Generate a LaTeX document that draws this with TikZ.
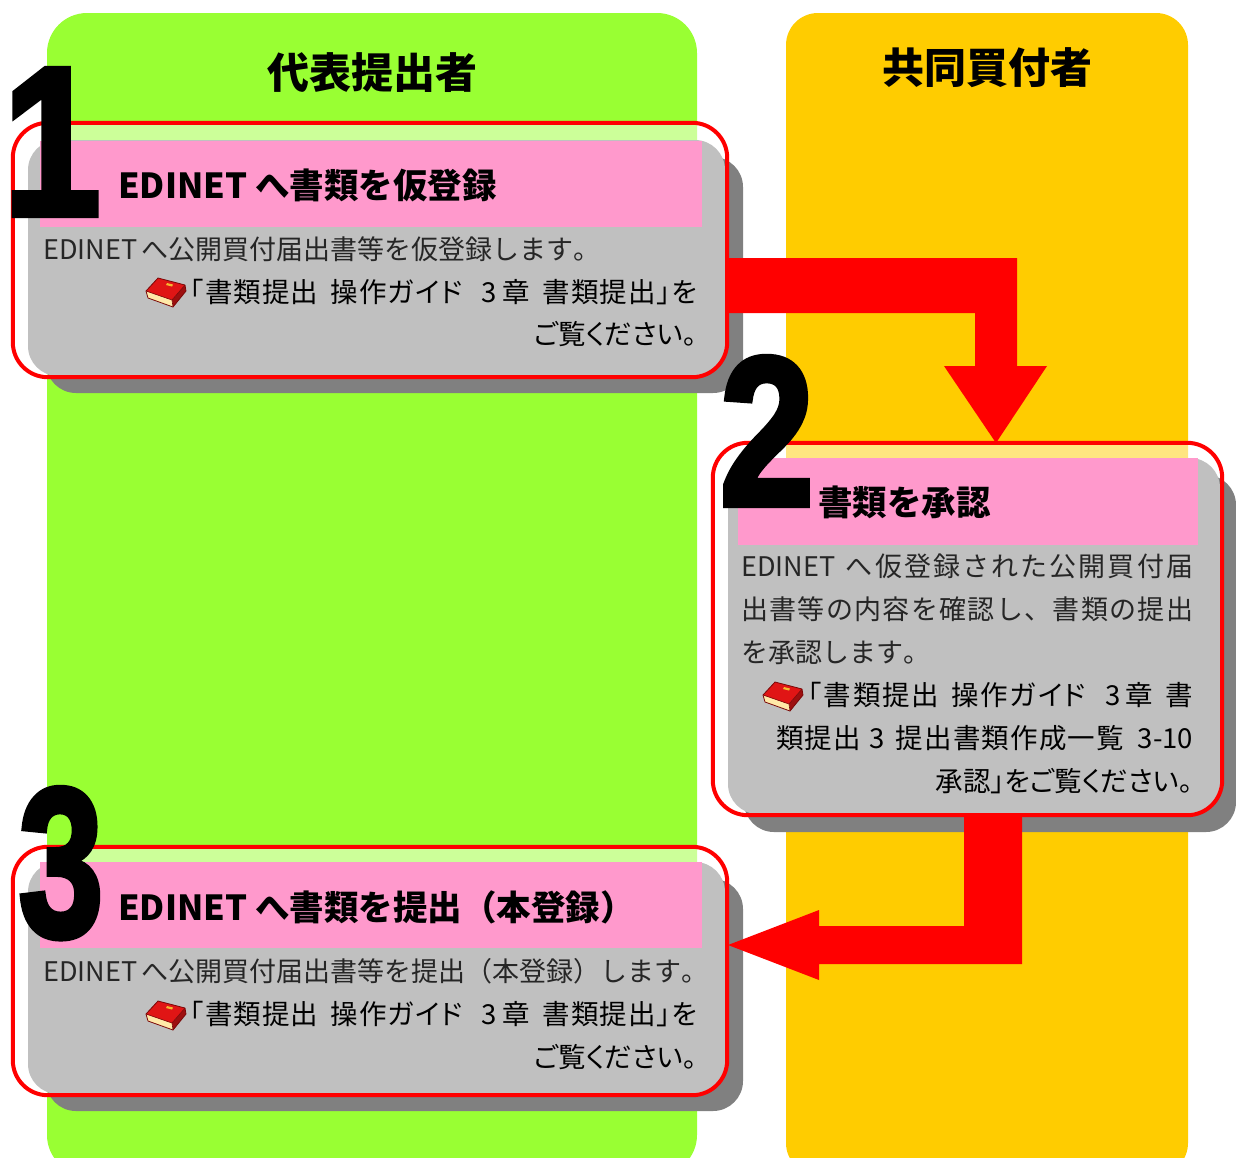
\documentclass[tikz,border=0pt]{standalone}
\usepackage{fontspec}
\usetikzlibrary{calc}
\newfontfamily\jp{Noto Sans CJK JP}
\newfontfamily\jpp[RawFeature=+palt]{Noto Sans CJK JP}
\newfontfamily\numfont[FakeBold=3]{Liberation Sans Bold}
\definecolor{lanegreen}{HTML}{99FF33}
\definecolor{laneyellow}{HTML}{FFCC00}
\definecolor{hpink}{HTML}{FF99CC}
\definecolor{boxgray}{HTML}{C0C0C0}
\definecolor{shadowgray}{HTML}{808080}
\definecolor{arrowred}{HTML}{FF0000}
\definecolor{bookred}{HTML}{E01515}
\definecolor{bookdark}{HTML}{7A0808}
\definecolor{bookpage}{HTML}{FFE9A8}
\definecolor{bookgold}{HTML}{F5B830}
% character classes for CJK text, and inter-character glue so that
% lines can be spread to a given width
\newcount\jcc
\jcc="3040 \loop \XeTeXcharclass\jcc=1 \advance\jcc by 1 \ifnum\jcc<"3100 \repeat
\jcc="4E00 \loop \XeTeXcharclass\jcc=1 \advance\jcc by 1 \ifnum\jcc<"A000 \repeat
\jcc="FF01 \loop \XeTeXcharclass\jcc=1 \advance\jcc by 1 \ifnum\jcc<"FF60 \repeat
\XeTeXcharclass"3001=3 \XeTeXcharclass"3002=3
\XeTeXcharclass"300C=2 \XeTeXcharclass"300D=3
\XeTeXcharclass"FF08=2 \XeTeXcharclass"FF09=3
\XeTeXinterchartokenstate=1
\newcommand\jfil{\hskip 0pt plus 1fil\relax}
\XeTeXinterchartoks 0 1 = {\jfil}
\XeTeXinterchartoks 1 0 = {\jfil}
\XeTeXinterchartoks 1 1 = {\jfil}
\XeTeXinterchartoks 1 2 = {\jfil}
\XeTeXinterchartoks 1 3 = {\jfil}
\XeTeXinterchartoks 2 1 = {\jfil}
\XeTeXinterchartoks 3 1 = {\jfil}
\XeTeXinterchartoks 3 2 = {\jfil}
\XeTeXinterchartoks 0 2 = {\jfil}
\XeTeXinterchartoks 3 0 = {\jfil}
\newcommand\spread[2]{\makebox[#1pt][s]{#2}}
\begin{document}
\begin{tikzpicture}[x=1pt,y=-1pt,
  lanetitle/.style={font=\jp\bfseries\fontsize{42}{42}\selectfont, inner sep=0pt, anchor=base},
  head/.style={font=\jp\bfseries\fontsize{34.5}{34.5}\selectfont, inner sep=0pt, anchor=base west},
  body/.style={font=\jp\fontsize{27}{27}\selectfont, inner sep=0pt, text=black!85, anchor=base west},
  guide/.style={font=\jpp\fontsize{27.5}{27.5}\selectfont, inner sep=0pt, anchor=base east},
  boxfill/.style={fill=white, fill opacity=0.5, rounded corners=35pt, inner sep=0pt, draw=none},
  redline/.style={draw=arrowred, line width=4pt, rounded corners=35pt},
  graybox/.style={fill=boxgray, rounded corners=30pt},
  shadowbox/.style={fill=shadowgray, rounded corners=30pt},
  bignum/.style={font=\numfont\fontsize{212}{212}\selectfont, inner sep=0pt, anchor=base},
  bookpic/.pic={
    \fill[bookred!70!black] (40,9) -- (41,15) -- (28,31) -- (27,24) -- cycle;
    \fill[bookpage] (1,15) -- (27,24) -- (28,31) -- (3,22) -- cycle;
    \fill[bookred] (13,2) -- (40,9) -- (27,24) -- (1,15) -- cycle;
    \draw[bookdark, line width=0.8pt, line join=round] (13,2) -- (40,9) -- (41,15) -- (28,31) -- (3,22) -- (1,15) -- cycle;
    \draw[bookdark, line width=0.6pt] (1,15) -- (27,24) -- (40,9);
    \draw[bookdark, line width=0.6pt] (27,24) -- (28,31);
    \fill[bookgold] (22,7) -- (28,8.5) -- (27,10.5) -- (21,9) -- cycle;
  }
]
\useasboundingbox (0,0) rectangle (1236,1157);
\clip (0,0) rectangle (1236,1157);

% lanes
\fill[lanegreen, rounded corners=40pt] (47,13) rectangle (697,1175);
\fill[laneyellow, rounded corners=32pt] (786,13) rectangle (1188,1175);
\node[lanetitle] (titleA) at (372,88) {代表提出者};
\node[lanetitle] (titleB) at (987,83) {共同買付者};

% box 1
\node[boxfill, minimum width=714pt, minimum height=254pt] (box1) at (370,250) {};
\fill[shadowbox] (46,157) rectangle (743,393);
\fill[graybox] (28,140) rectangle (725,376);
\fill[hpink] (40,141) rectangle (702,227);
\draw[redline] (box1.north west) rectangle (box1.south east);

% box 2
\node[boxfill, minimum width=509pt, minimum height=372pt] (box2) at (967.5,629) {};
\fill[shadowbox] (744,475) rectangle (1236,832);
\fill[graybox] (728,458) rectangle (1220,814);
\fill[hpink] (738,458) rectangle (1198,545);
\draw[redline] (box2.north west) rectangle (box2.south east);

% box 3
\node[boxfill, minimum width=714pt, minimum height=248pt] (box3) at (370,971) {};
\fill[shadowbox] (46,879) rectangle (743,1111);
\fill[graybox] (28,862) rectangle (725,1094);
\fill[hpink] (40,862) rectangle (702,948);
\draw[redline] (box3.north west) rectangle (box3.south east);

% arrows
\coordinate (a1tip) at (996,443);
\coordinate (a2tip) at (728,945);
\fill[arrowred] (box1.east |- 0,258) -- (1017,258) -- (1017,366) -- (1047,366) -- (a1tip)
  -- (944,366) -- (975,366) -- (975,313) -- (box1.east |- 0,313) -- cycle;
\fill[arrowred] (box2.south -| 964,0) -- (box2.south -| 1022,0) -- (1022,964) -- (819,964) -- (819,980)
  -- (a2tip) -- (819,910) -- (819,926) -- (964,926) -- cycle;

% headers
\node[head] (h1) at (118,198) {EDINET へ書類を仮登録};
\node[head] (h2) at (818,515) {書類を承認};
\node[head] (h3) at (118,920) {EDINET へ書類を提出（本登録）};

% box 1 text
\node[body] (t1a) at (43,259) {\spread{557}{EDINET へ公開買付届出書等を仮登録します。}};
\pic at (145,276) {bookpic};
\node[guide, anchor=base west] (t1b) at (190,302) {\spread{507}{「書類提出\hspace{0.45em}操作ガイド\hspace{0.7em}3\hspace{0.2em}章\hspace{0.45em}書類提出」を}};
\node[guide] (t1c) at (697,344) {ご覧ください。};

% box 2 text
\node[body] (t2a) at (741,576) {\spread{452}{EDINET\hspace{0.4em}へ仮登録された公開買付届}};
\node[body] (t2b) at (741,619) {\spread{452}{出書等の内容を確認し、書類の提出}};
\node[body] (t2c) at (741,662) {を承認します。};
\pic at (762,680) {bookpic};
\node[guide, anchor=base west] (t2d) at (808,705) {\spread{385}{「書類提出\hspace{0.45em}操作ガイド\hspace{0.7em}3\hspace{0.2em}章\hspace{0.45em}書}};
\node[guide, anchor=base west] (t2e) at (776,748) {\spread{417}{類提出\hspace{0.3em}3\hspace{0.4em}提出書類作成一覧\hspace{0.5em}3-10}};
\node[guide] (t2f) at (1193,791) {承認」をご覧ください。};

% box 3 text
\node[body] (t3a) at (43,981) {\spread{654}{EDINET へ公開買付届出書等を提出（本登録）します。}};
\pic at (145,999) {bookpic};
\node[guide, anchor=base west] (t3b) at (190,1024) {\spread{507}{「書類提出\hspace{0.45em}操作ガイド\hspace{0.7em}3\hspace{0.2em}章\hspace{0.45em}書類提出」を}};
\node[guide] (t3c) at (697,1067) {ご覧ください。};

% big step numbers
\node[bignum] (n1) at (52,215) {\scalebox{0.83}[1]{1}};
\node[bignum] (n2) at (767,505) {\scalebox{0.8}[1]{2}};
\node[bignum] (n3) at (61,936) {\scalebox{0.72}[1]{3}};
\end{tikzpicture}
\end{document}
